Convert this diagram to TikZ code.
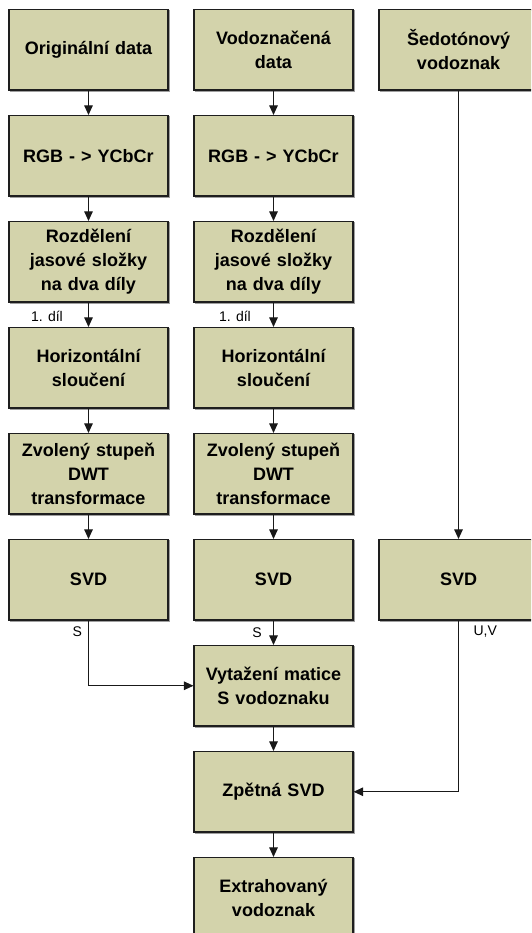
\documentclass[tikz,border=0pt]{standalone}
\usepackage{fontspec}
\setmainfont{Liberation Sans}
\usetikzlibrary{arrows.meta,shadows}
\definecolor{boxfill}{RGB}{211,211,171}
\definecolor{boxline}{RGB}{30,30,30}
\tikzset{
  stepbox/.style={rectangle, draw=boxline, line width=1.1pt, fill=boxfill,
    minimum width=159pt, minimum height=80.5pt, inner sep=0pt,
    text width=155pt, align=center,
    font=\bfseries\fontsize{18}{24}\selectfont,
    general shadow={draw=gray!75, line width=1.1pt, shadow xshift=1.2pt, shadow yshift=-1.2pt}},
  conn/.style={draw=black!90, line width=1pt, -{Triangle[length=9.5pt,width=8.5pt]}},
  lbl/.style={font=\fontsize{14}{16}\selectfont, inner sep=0pt}
}
\begin{document}
\begin{tikzpicture}[x=1pt,y=1pt]
\clip (0,0) rectangle (531,-933);
\fill[white] (0,0) rectangle (531,-933);

% column 1: original data
\node[stepbox] (a0) at (88.5,-49.75)  {Originální data};
\node[stepbox] (a1) at (88.5,-155.75) {RGB - > YCbCr};
\node[stepbox] (a2) at (88.5,-261.75) {Rozdělení\\jasové složky\\na dva díly};
\node[stepbox] (a3) at (88.5,-367.75) {Horizontální\\sloučení};
\node[stepbox] (a4) at (88.5,-473.75) {Zvolený stupeň\\DWT\\transformace};
\node[stepbox] (a5) at (88.5,-579.75) {SVD};

% column 2: watermarked data
\node[stepbox] (b0) at (273.5,-49.75)  {Vodoznačená\\data};
\node[stepbox] (b1) at (273.5,-155.75) {RGB - > YCbCr};
\node[stepbox] (b2) at (273.5,-261.75) {Rozdělení\\jasové složky\\na dva díly};
\node[stepbox] (b3) at (273.5,-367.75) {Horizontální\\sloučení};
\node[stepbox] (b4) at (273.5,-473.75) {Zvolený stupeň\\DWT\\transformace};
\node[stepbox] (b5) at (273.5,-579.75) {SVD};
\node[stepbox] (b6) at (273.5,-685.75) {Vytažení matice\\S vodoznaku};
\node[stepbox] (b7) at (273.5,-791.75) {Zpětná SVD};
\node[stepbox] (b8) at (273.5,-897.75) {Extrahovaný\\vodoznak};

% column 3: grayscale watermark
\node[stepbox] (c0) at (458.5,-49.75)  {Šedotónový\\vodoznak};
\node[stepbox] (c5) at (458.5,-579.75) {SVD};

% vertical chains
\foreach \p/\q in {a0/a1,a1/a2,a2/a3,a3/a4,a4/a5,
                   b0/b1,b1/b2,b2/b3,b3/b4,b4/b5,b5/b6,b6/b7,b7/b8,
                   c0/c5}
  \draw[conn] (\p) -- (\q);

% side connectors
\draw[conn] (a5.south) |- (b6.west);
\draw[conn] (c5.south) |- (b7.east);

% connector labels
\node[lbl] (l1) at (47,-316.6)  {1. díl};
\node[lbl] (l2) at (235,-316.6) {1. díl};
\node[lbl] (s1) at (77.3,-631.7) {S};
\node[lbl] (s2) at (257,-632.6) {S};
\node[lbl] (uv) at (485.3,-631.7) {U,V};
\end{tikzpicture}
\end{document}
